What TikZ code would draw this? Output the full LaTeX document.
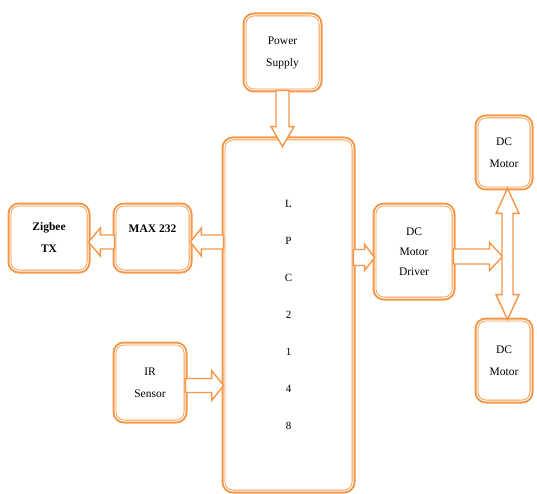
\documentclass[tikz,border=0pt]{standalone}
\usepackage{fontspec}
\setmainfont{Liberation Serif}
\usetikzlibrary{calc}
\definecolor{boxorange}{HTML}{F79646}

% hollow block arrow: from, to, shaft half-width, head half-width, head length
\newcommand{\blockarrow}[5]{%
  \coordinate (ah) at ($(#2)!#5!(#1)$);
  \draw[barrow] ($(#1)!#3!90:(#2)$) -- ($(ah)!#3!90:(#2)$) -- ($(ah)!#4!90:(#2)$)
    -- (#2) -- ($(ah)!#4!-90:(#2)$) -- ($(ah)!#3!-90:(#2)$) -- ($(#1)!#3!-90:(#2)$) -- cycle;}
% hollow two-way arrow: end, end, shaft half-width, head half-width, head length
\newcommand{\twowayarrow}[5]{%
  \coordinate (ha) at ($(#1)!#5!(#2)$);
  \coordinate (hb) at ($(#2)!#5!(#1)$);
  \draw[barrow] (#1) -- ($(ha)!#4!90:(#2)$) -- ($(ha)!#3!90:(#2)$) -- ($(hb)!#3!-90:(#1)$)
    -- ($(hb)!#4!-90:(#1)$) -- (#2) -- ($(hb)!#4!90:(#1)$) -- ($(hb)!#3!90:(#1)$)
    -- ($(ha)!#3!-90:(#2)$) -- ($(ha)!#4!-90:(#2)$) -- cycle;}

\begin{document}
\begin{tikzpicture}[
  x=1pt,y=-1pt,
  font=\fontsize{11.5}{22}\selectfont,
  line join=round,
  block/.style={preaction={draw=boxorange,line width=5pt},
    draw=boxorange,line width=.8pt,double=white,double distance=1pt,
    rounded corners=9pt,fill=white,align=center,inner sep=2pt},
  barrow/.style={draw=boxorange,line width=1.4pt,fill=white,line join=miter}
]
\useasboundingbox (0,0) rectangle (537,494);

% Blocks
\node[block,minimum width=75pt,minimum height=75pt] (power) at (282.5,52.5) {Power\\Supply};
\node[block,minimum width=129pt,minimum height=352pt,font=\fontsize{11}{37}\selectfont]
  (lpc) at (288.5,315) {L\\P\\C\\2\\1\\4\\8};
\node[block,minimum width=78pt,minimum height=66pt,font=\fontsize{11.5}{22}\selectfont\bfseries]
  (zigbee) at (49,238) {Zigbee\\TX};
\node[block,minimum width=75pt,minimum height=66pt,text depth=18pt,
  font=\fontsize{11.5}{22}\selectfont\bfseries] (max) at (152.5,238) {MAX 232};
\node[block,minimum width=70pt,minimum height=77pt] (ir) at (150,382.5) {IR\\Sensor};
\node[block,minimum width=78pt,minimum height=93pt,font=\fontsize{11.5}{20}\selectfont]
  (driver) at (414,251.5) {DC\\Motor\\Driver};
\node[block,minimum width=54pt,minimum height=71pt] (motor1) at (504,152.5) {DC\\Motor};
\node[block,minimum width=54pt,minimum height=81pt] (motor2) at (504,360.5) {DC\\Motor};

% Connection points
\coordinate (ptip) at ($(power.south |- lpc.north)+(0,8)$);
\coordinate (mx) at ($(max.east)+(0,4)$);
\coordinate (zg) at ($(zigbee.east)+(0,4)$);
\coordinate (irr) at ($(ir.east)+(0,3)$);
\coordinate (dv) at ($(driver.west)+(0,6)$);
\coordinate (drv) at ($(driver.east)+(0,5)$);
\coordinate (bustop) at ($(motor1.south)+(3.5,0)$);
\coordinate (busbot) at (bustop |- motor2.north);
\coordinate (busin) at ($(bustop |- drv)+(-5,0)$);

% Block arrows
\blockarrow{power.south}{ptip}{6.5pt}{11.5pt}{20pt}
\blockarrow{lpc.west |- mx}{mx}{7pt}{14pt}{11pt}
\blockarrow{max.west |- zg}{zg}{7pt}{14pt}{12pt}
\blockarrow{irr}{lpc.west |- irr}{7pt}{15pt}{12pt}
\blockarrow{lpc.east |- dv}{dv}{8pt}{13pt}{10pt}
\blockarrow{drv}{busin}{7.5pt}{14pt}{13pt}
\twowayarrow{bustop}{busbot}{5.5pt}{11.5pt}{25pt}

\end{tikzpicture}
\end{document}
